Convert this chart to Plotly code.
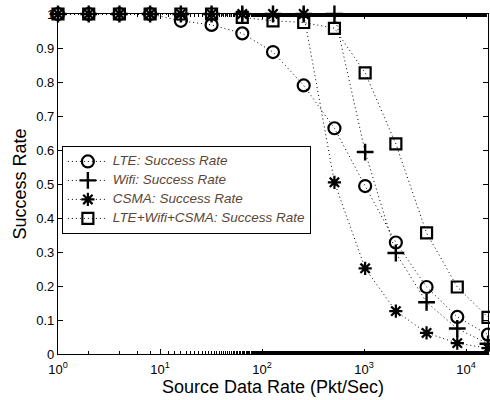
import plotly.graph_objects as go

# Source data rate (packets per second), powers of two
rate = [1, 2, 4, 8, 16, 32, 64, 128, 256, 512, 1024, 2048, 4096, 8192, 16384]

lte = [1, 1, 1, 1, 0.98, 0.968, 0.943, 0.888, 0.79, 0.664, 0.494, 0.328, 0.197, 0.109, 0.057]
wifi = [1, 1, 1, 1, 1, 1, 1, 1, 1, 1, 0.594, 0.297, 0.152, 0.075, 0.03]
csma = [1, 1, 1, 1, 1, 1, 1, 1, 1, 0.505, 0.252, 0.126, 0.062, 0.032, 0.017]
combined = [1, 1, 1, 1, 1, 1, 0.99, 0.98, 0.975, 0.958, 0.827, 0.618, 0.356, 0.197, 0.108]

names = ["LTE: Success Rate", "Wifi: Success Rate", "CSMA: Success Rate",
         "LTE+Wifi+CSMA: Success Rate"]

x_tickvals = [1, 10, 100, 1000, 10000]
x_ticktext = ["10<sup>0</sup>", "10<sup>1</sup>", "10<sup>2</sup>", "10<sup>3</sup>", "10<sup>4</sup>"]
y_tickvals = [0, 0.1, 0.2, 0.3, 0.4, 0.5, 0.6, 0.7, 0.8, 0.9, 1]
y_ticktext = ["0", "0.1", "0.2", "0.3", "0.4", "0.5", "0.6", "0.7", "0.8", "0.9", "1"]

FONT = "Liberation Sans, Arial, sans-serif"

styles = [
    dict(symbol="circle-open", size=12, line=dict(width=2.2, color="black")),
    dict(symbol="cross-thin-open", size=12, line=dict(width=2.4, color="black")),
    dict(symbol="asterisk-open", size=11, line=dict(width=2.2, color="black")),
    dict(symbol="square-open", size=11, line=dict(width=2.2, color="black")),
]

fig = go.Figure()
for name, ys, mk in zip(names, [lte, wifi, csma, combined], styles):
    fig.add_trace(go.Scatter(
        x=rate, y=ys, mode="lines+markers",
        # larger text inside a compact legend row
        name=f'<span style="font-size:13.5px">{name}</span>',
        line=dict(color="black", width=1, dash="1px,3px"),
        marker=dict(color="black", **mk),
        cliponaxis=False,
    ))

axis_common = dict(
    showline=True, linecolor="black", linewidth=1.3, mirror="allticks",
    ticks="inside", tickcolor="black", ticklen=5, showgrid=False, zeroline=False,
    tickfont=dict(family=FONT, size=13, color="black"),
)

fig.update_xaxes(
    type="log", range=[0, 4.21446],
    tickvals=x_tickvals, ticktext=x_ticktext, ticklabelstandoff=3,
    minor=dict(ticks="inside", ticklen=3, tickcolor="black", showgrid=False),
    title=dict(text="Source Data Rate (Pkt/Sec)", standoff=2,
               font=dict(family=FONT, size=18, color="black")),
    **axis_common,
)
fig.update_yaxes(
    range=[0, 1], tickvals=y_tickvals, ticktext=y_ticktext,
    title=dict(text="Success Rate", standoff=4,
               font=dict(family=FONT, size=18, color="black")),
    **axis_common,
)

fig.update_layout(
    width=490, height=400,
    margin=dict(l=58, r=2, t=14, b=46),
    paper_bgcolor="white", plot_bgcolor="white",
    showlegend=True,
    legend=dict(
        x=0.009, y=0.612, xanchor="left", yanchor="top",
        bgcolor="white", bordercolor="black", borderwidth=1,
        font=dict(family=FONT, size=10, color="#5b4636", style="italic"),
        tracegroupgap=0, itemwidth=40,
    ),
)

fig.write_html("out.html")
